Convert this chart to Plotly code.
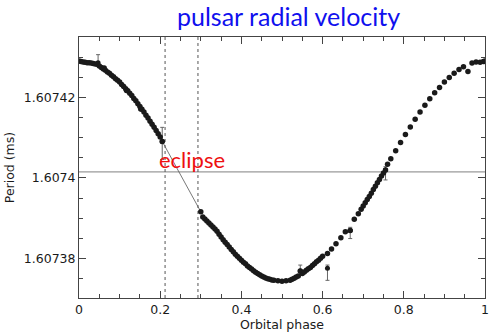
import plotly.graph_objects as go

# ---- data ----
phase_pre = [0.000, 0.005, 0.010, 0.015, 0.020, 0.025, 0.030, 0.035, 0.040, 0.045,
             0.050, 0.055, 0.060, 0.062, 0.065, 0.070, 0.075, 0.080, 0.085, 0.090,
             0.095, 0.100, 0.105, 0.110, 0.115, 0.117, 0.120, 0.125, 0.130, 0.135,
             0.140, 0.145, 0.150, 0.152, 0.155, 0.160, 0.165, 0.170, 0.175, 0.180,
             0.185, 0.190, 0.195, 0.200, 0.205]
period_pre = [1.6074291, 1.6074290, 1.6074289, 1.6074288, 1.6074287, 1.6074287, 1.6074286, 1.6074285, 1.6074284, 1.6074283,
              1.6074279, 1.6074275, 1.6074271, 1.6074274, 1.6074268, 1.6074264, 1.6074261, 1.6074256, 1.6074252, 1.6074247,
              1.6074243, 1.6074239, 1.6074233, 1.6074228, 1.6074222, 1.6074218, 1.6074217, 1.6074211, 1.6074205, 1.6074198,
              1.6074192, 1.6074185, 1.6074178, 1.6074172, 1.6074171, 1.6074164, 1.6074156, 1.6074149, 1.6074141, 1.6074134,
              1.6074126, 1.6074118, 1.6074110, 1.6074102, 1.6074091]

phase_post = [0.300, 0.305, 0.310, 0.315, 0.320, 0.325, 0.330, 0.335, 0.340, 0.345,
              0.350, 0.355, 0.360, 0.365, 0.370, 0.375, 0.380, 0.385, 0.390, 0.395,
              0.400, 0.405, 0.410, 0.415, 0.420, 0.425, 0.430, 0.435, 0.440, 0.445,
              0.450, 0.455, 0.460, 0.465, 0.470, 0.475, 0.480, 0.490, 0.500, 0.510,
              0.520, 0.525, 0.530, 0.535, 0.540, 0.545, 0.550, 0.555, 0.560, 0.565,
              0.570, 0.575, 0.580, 0.585, 0.590, 0.595, 0.600]
period_post = [1.6073916, 1.6073903, 1.6073898, 1.6073893, 1.6073888, 1.6073883, 1.6073878, 1.6073873, 1.6073867, 1.6073860,
               1.6073853, 1.6073846, 1.6073840, 1.6073834, 1.6073828, 1.6073822, 1.6073816, 1.6073810, 1.6073805, 1.6073800,
               1.6073795, 1.6073790, 1.6073786, 1.6073781, 1.6073777, 1.6073773, 1.6073769, 1.6073765, 1.6073762, 1.6073759,
               1.6073756, 1.6073753, 1.6073751, 1.6073749, 1.6073748, 1.6073746, 1.6073745, 1.6073744, 1.6073743, 1.6073744,
               1.6073745, 1.6073748, 1.6073750, 1.6073753, 1.6073756, 1.6073768, 1.6073762, 1.6073766, 1.6073770, 1.6073774,
               1.6073777, 1.6073782, 1.6073786, 1.6073791, 1.6073795, 1.6073800, 1.6073805]

phase_late = [0.612, 0.622, 0.633, 0.645, 0.656, 0.668, 0.678, 0.688, 0.695, 0.700,
              0.705, 0.710, 0.715, 0.720, 0.725, 0.730, 0.735, 0.740, 0.745, 0.750,
              0.755, 0.760, 0.768, 0.780, 0.792, 0.804, 0.816, 0.828, 0.840, 0.852,
              0.864, 0.876, 0.888, 0.900, 0.912, 0.924, 0.936, 0.947, 0.958, 0.968,
              0.978, 0.988, 0.996, 1.000]
period_late = [1.6073812, 1.6073823, 1.6073836, 1.6073851, 1.6073866, 1.6073869, 1.6073897, 1.6073911, 1.6073922, 1.6073930,
               1.6073938, 1.6073946, 1.6073954, 1.6073962, 1.6073971, 1.6073979, 1.6073988, 1.6073996, 1.6074005, 1.6074012,
               1.6074020, 1.6074034, 1.6074048, 1.6074068, 1.6074088, 1.6074108, 1.6074127, 1.6074146, 1.6074164, 1.6074181,
               1.6074197, 1.6074212, 1.6074225, 1.6074239, 1.6074250, 1.6074261, 1.6074270, 1.6074277, 1.6074265, 1.6074286,
               1.6074289, 1.6074288, 1.6074290, 1.6074291]

# points drawn with error bars
err_phase = [0.047, 0.205, 0.545, 0.612, 0.668, 0.755]
err_period = [1.6074287, 1.6074091, 1.6073768, 1.6073775, 1.6073869, 1.6074020]
err_up = [0.0000020, 0.0000035, 0.0000015, 0.0000008, 0.0000008, 0.0000008]
err_down = [0.0000008, 0.0000045, 0.0000008, 0.0000030, 0.0000020, 0.0000025]

# straight fit segment bridging the eclipse
bridge_phase = [0.205, 0.302]
bridge_period = [1.6074091, 1.6073912]

eclipse_edges = [0.212, 0.293]
mean_period = 1.6074015

x_ticks = [0, 0.2, 0.4, 0.6, 0.8, 1.0]
x_ticktext = ["0", "0.2", "0.4", "0.6", "0.8", "1"]
y_ticks = [1.60738, 1.6074, 1.60742]
y_ticktext = ["1.60738", "1.6074", "1.60742"]

y_range = [1.6073701, 1.6074351]

fig = go.Figure()

# mean-period horizontal line
fig.add_trace(go.Scatter(x=[0, 1], y=[mean_period, mean_period], mode="lines",
                         line=dict(color="#808080", width=1), hoverinfo="skip", showlegend=False))
# eclipse boundaries
for xe in eclipse_edges:
    fig.add_trace(go.Scatter(x=[xe, xe], y=y_range, mode="lines",
                             line=dict(color="#555555", width=1, dash="3px,3px"),
                             hoverinfo="skip", showlegend=False))
# bridge line
fig.add_trace(go.Scatter(x=bridge_phase, y=bridge_period, mode="lines",
                         line=dict(color="#555555", width=0.8), showlegend=False))

# error bars
fig.add_trace(go.Scatter(x=err_phase, y=err_period, mode="markers",
                         marker=dict(color="#1a1a1a", size=5),
                         error_y=dict(type="data", symmetric=False, array=err_up, arrayminus=err_down,
                                      color="#666666", thickness=1, width=2),
                         showlegend=False))

# data points
for px_, py_ in [(phase_pre, period_pre), (phase_post, period_post), (phase_late, period_late)]:
    fig.add_trace(go.Scatter(x=px_, y=py_, mode="markers",
                             marker=dict(color="#1a1a1a", size=5.5, line=dict(width=0)),
                             showlegend=False))

axis_font = dict(family="DejaVu Sans, sans-serif", size=12.5, color="#1a1a1a")

fig.update_xaxes(range=[0, 1.0], tickvals=x_ticks, ticktext=x_ticktext,
                 ticks="inside", ticklen=7, tickcolor="#444444", tickwidth=1,
                 minor=dict(dtick=0.05, ticks="inside", ticklen=4, tickcolor="#444444"),
                 showline=True, linecolor="#444444", linewidth=1, mirror="ticks",
                 showgrid=False, zeroline=False, tickfont=axis_font,
                 title=dict(text="Orbital phase", font=axis_font, standoff=3))
fig.update_yaxes(range=y_range, tickvals=y_ticks, ticktext=y_ticktext,
                 ticks="inside", ticklen=7, tickcolor="#444444", tickwidth=1,
                 minor=dict(dtick=0.000005, tick0=1.6074, ticks="inside", ticklen=4, tickcolor="#444444"),
                 showline=True, linecolor="#444444", linewidth=1, mirror="ticks",
                 showgrid=False, zeroline=False, tickfont=axis_font,
                 title=dict(text="Period (ms)", font=axis_font, standoff=6))

fig.add_annotation(xref="paper", yref="paper", x=0.515, y=1.080, text="pulsar radial velocity",
                   showarrow=False, xanchor="center", yanchor="middle",
                   font=dict(family="Lato, sans-serif", size=25, color="#1010ee"))
fig.add_annotation(xref="x", yref="y", x=0.278, y=1.6074046, text="eclipse",
                   showarrow=False, xanchor="center", yanchor="middle",
                   font=dict(family="Lato, sans-serif", size=22, color="#ee1010"))

fig.update_layout(width=492, height=332, margin=dict(l=79, r=3, t=37, b=32),
                  paper_bgcolor="white", plot_bgcolor="white")

fig.write_html("out.html")
